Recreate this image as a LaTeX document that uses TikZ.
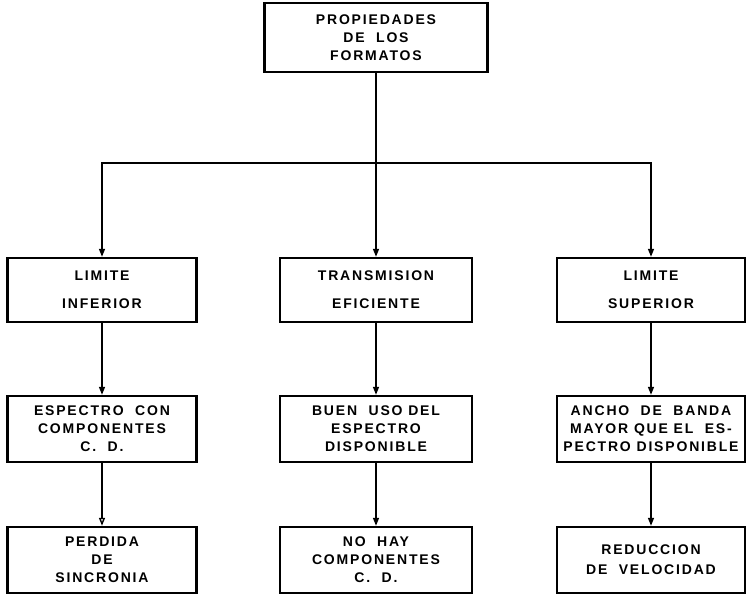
\documentclass[tikz,border=0pt]{standalone}
\usepackage{fontspec}
\setmainfont{Liberation Sans}
\newfontfamily\rotulo[LetterSpace=13]{Liberation Sans Bold}
\usetikzlibrary{arrows.meta}

\tikzset{
  caja/.style={draw, line width=2.4pt, minimum width=189pt, minimum height=66pt,
    align=center, inner sep=0pt, font=\rotulo\fontsize{14}{18}\selectfont},
  flecha/.style={line width=1.4pt, -{Triangle[length=8pt,width=6pt]}},
  flechab/.style={line width=1.4pt, -{Triangle[open,length=8pt,width=6pt]}},
  linea/.style={line width=1.4pt}
}

\begin{document}
\begin{tikzpicture}[x=1pt,y=-1pt]
        \useasboundingbox (0,0) rectangle (747,595);

        \node[caja, minimum width=223pt, minimum height=69pt](prop) at (376,37.5){PROPIEDADES\\DE~~LOS\\FORMATOS};
        \coordinate (bus) at (376,163);

        \node[caja, minimum height=64pt](inf) at (102,290){LIMITE\\[10pt]INFERIOR};
        \node[caja, minimum height=64pt, minimum width=192pt](tra) at (376,290){TRANSMISION\\[10pt]EFICIENTE};
        \node[caja, minimum height=64pt, minimum width=188pt](sup) at (651,290){LIMITE\\[10pt]SUPERIOR};

        \node[caja](esp) at (102,429){ESPECTRO~~CON\\COMPONENTES\\C.~~D.};
        \node[caja, minimum width=192pt](uso) at (376,429){BUEN~~USO~DEL\\ESPECTRO\\DISPONIBLE};
        \node[caja, minimum width=188pt](anc) at (651,429){ANCHO~~DE~~BANDA\\MAYOR QUE~EL~~ES-\\PECTRO DISPONIBLE};

        \node[caja](per) at (102,560){PERDIDA\\DE\\SINCRONIA};
        \node[caja, minimum width=192pt](nohay) at (376,560){NO~~HAY\\COMPONENTES\\C.~~D.};
        \node[caja, minimum width=188pt](red) at (651,560){REDUCCION\\[2pt]DE~~VELOCIDAD};

        \draw[linea](prop.south)--(bus);
        \draw[flecha](bus)-|(inf.north);
        \draw[flecha](bus)--(tra.north);
        \draw[flecha](bus)-|(sup.north);

        \draw[flecha](inf.south)--(esp.north);
        \draw[flecha](tra.south)--(uso.north);
        \draw[flecha](sup.south)--(anc.north);

        \draw[flechab](esp.south)--(per.north);
        \draw[flecha](uso.south)--(nohay.north);
        \draw[flecha](anc.south)--(red.north);
    \end{tikzpicture}
\end{document}
